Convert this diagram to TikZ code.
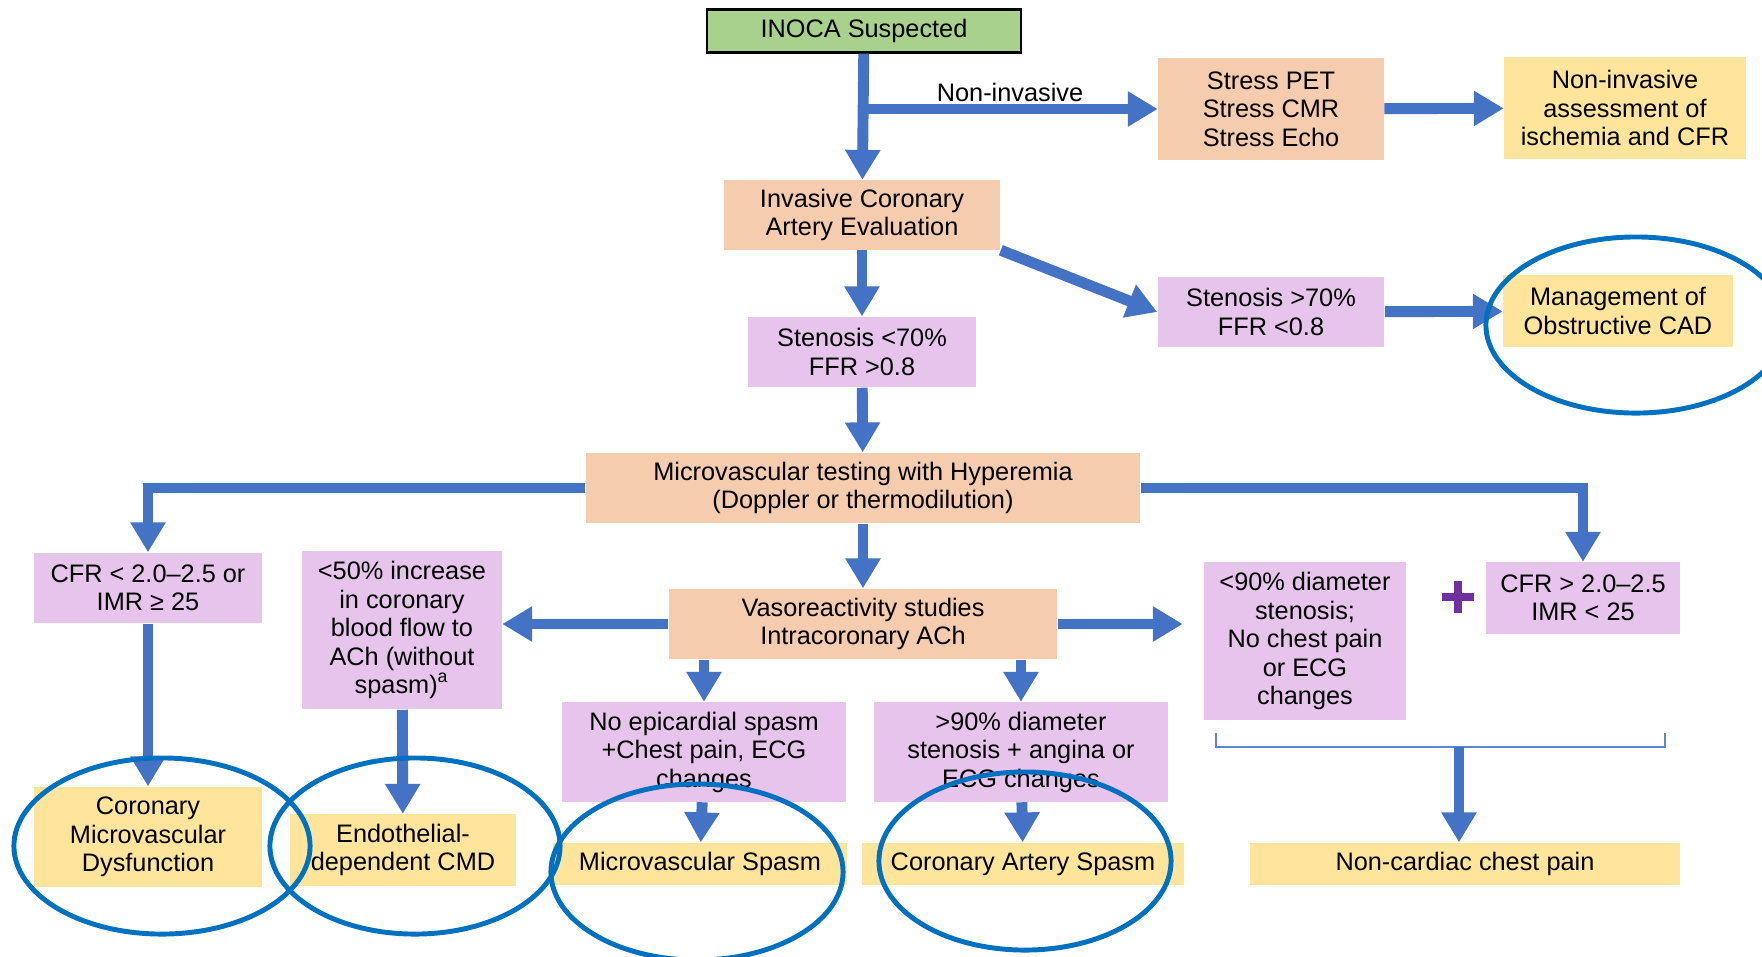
\documentclass[tikz,border=0pt]{standalone}
\usepackage{fontspec}
\setmainfont{Liberation Sans}
\usepackage{xcolor}
\usepackage{tikz}
\usetikzlibrary{arrows.meta, positioning, calc}
\definecolor{hijau}{RGB}{169, 209, 142}
\definecolor{jingga}{RGB}{246, 204, 174}
\definecolor{ungu}{RGB}{230, 196, 236}
\definecolor{kuning}{RGB}{255, 229, 156}
\definecolor{biru}{RGB}{68, 114, 196}
\definecolor{birutua}{RGB}{0, 112, 192}
\definecolor{tambah}{RGB}{112, 48, 160}

\begin{document}
\begin{tikzpicture}[
    x=0.01cm, y=-0.01cm,
    font=\fontsize{7.2}{8.1}\selectfont,
    kotak/.style={align=center, inner sep=1pt},
    panah/.style={biru, line width=3.1pt,
                  -{Triangle[length=8.5pt, width=9.5pt]}},
    lingkar/.style={birutua, line width=1.4pt},
    kurung/.style={biru!85, line width=0.6pt}
  ]
    \useasboundingbox (0,0) rectangle (1762,956);
    % Baris atas: kecurigaan dan jalur non-invasif
    \node[kotak, fill=hijau, draw=black, line width=0.6pt,
          minimum width=3.13cm, minimum height=0.43cm] (inoca) at (864,31)
      {INOCA Suspected};
    \node[kotak, fill=jingga, minimum width=2.25cm, minimum height=1.01cm]
      (stress) at (1271,109) {Stress PET\\Stress CMR\\Stress Echo};
    \node[kotak, fill=kuning, minimum width=2.41cm, minimum height=1.01cm]
      (nonassess) at (1625,108) {Non-invasive\\assessment of\\ischemia and CFR};
    \node[kotak, fill=jingga, minimum width=2.76cm, minimum height=0.69cm]
      (invasive) at (862,215) {Invasive Coronary\\Artery Evaluation};
    \node[kotak, fill=ungu, minimum width=2.27cm, minimum height=0.70cm]
      (stenlow) at (862,352) {Stenosis <70\%\\FFR >0.8};
    \node[kotak, fill=ungu, minimum width=2.26cm, minimum height=0.70cm]
      (stenhigh) at (1271,312) {Stenosis >70\%\\FFR <0.8};
    \node[kotak, fill=kuning, minimum width=2.29cm, minimum height=0.72cm]
      (manage) at (1618,311) {Management of\\Obstructive CAD};
    \node[kotak, fill=jingga, minimum width=5.54cm, minimum height=0.70cm]
      (micro) at (863,488)
      {Microvascular testing with Hyperemia\\(Doppler or thermodilution)};
    % Baris tengah
    \node[kotak, fill=ungu, minimum width=2.27cm, minimum height=0.70cm]
      (cfrlow) at (148,588) {CFR < 2.0–2.5 or\\IMR ≥ 25};
    \node[kotak, fill=ungu, minimum width=1.99cm, minimum height=1.58cm]
      (achlow) at (402,630)
      {<50\% increase\\in coronary\\blood flow to\\ACh (without\\spasm)\textsuperscript{a}};
    \node[kotak, fill=jingga, minimum width=3.88cm, minimum height=0.70cm]
      (vaso) at (863,624) {Vasoreactivity studies\\Intracoronary ACh};
    \node[kotak, fill=ungu, minimum width=2.83cm, minimum height=0.99cm]
      (noepi) at (704,752) {No epicardial spasm\\+Chest pain, ECG\\changes};
    \node[kotak, fill=ungu, minimum width=2.94cm, minimum height=0.99cm]
      (sten90) at (1021,752) {>90\% diameter\\stenosis + angina or\\ECG changes};
    \node[kotak, fill=ungu, minimum width=2.01cm, minimum height=1.57cm]
      (sten90less) at (1305,641)
      {<90\% diameter\\stenosis;\\No chest pain\\or ECG\\changes};
    \node[kotak, fill=ungu, minimum width=1.94cm, minimum height=0.71cm]
      (cfrhigh) at (1583,598) {CFR > 2.0–2.5\\IMR < 25};
    % Baris bawah: diagnosis
    \node[kotak, fill=kuning, minimum width=2.27cm, minimum height=1.00cm]
      (cmd) at (148,837) {Coronary\\Microvascular\\Dysfunction};
    \node[kotak, fill=kuning, minimum width=2.25cm, minimum height=0.71cm]
      (endo) at (403,850) {Endothelial-\\dependent CMD};
    \node[kotak, fill=kuning, minimum width=2.93cm, minimum height=0.42cm]
      (mvspasm) at (700,864) {Microvascular Spasm};
    \node[kotak, fill=kuning, minimum width=3.21cm, minimum height=0.42cm]
      (cas) at (1023,864) {Coronary Artery Spasm};
    \node[kotak, fill=kuning, minimum width=4.29cm, minimum height=0.42cm]
      (noncard) at (1465,864) {Non-cardiac chest pain};
    \node (lblnon) at (1010,92) {Non-invasive};

    % Panah
    \coordinate (cabang) at (inoca.south |- stress.west);
    \draw[panah] (inoca) -- (invasive);
    \draw[panah] (cabang) -- (stress.west);
    \draw[panah] (stress) -- (nonassess);
    \draw[panah] (invasive.south east) -- (stenhigh.west);
    \draw[panah] (stenhigh) -- (manage);
    \draw[panah] (invasive) -- (stenlow);
    \draw[panah] (stenlow) -- (micro);
    \draw[panah] (micro.west) -- (cfrlow.north |- micro.west) -- (cfrlow.north);
    \draw[panah] (micro.east) -- (cfrhigh.north |- micro.east) -- (cfrhigh.north);
    \draw[panah] (micro) -- (vaso);
    \draw[panah] (vaso.west) -- (achlow.east |- vaso.west);
    \draw[panah, shorten >=0.21cm] (vaso.east) -- (sten90less.west |- vaso.east);
    \draw[panah] (noepi.north |- vaso.south) -- (noepi.north);
    \draw[panah] (sten90.north |- vaso.south) -- (sten90.north);
    \draw[panah] (cfrlow) -- (cmd);
    \draw[panah] (achlow) -- (endo);
    \draw[panah] (noepi) -- (mvspasm);
    \draw[panah] (sten90) -- (cas);

    % Kurung dan tanda tambah
    \coordinate (kurungkiri) at (1216,733);
    \coordinate (kurungkanan) at (1665,733);
    \coordinate (kurungtengah) at (1459,747);
    \draw[kurung] (kurungkiri) -- (kurungkiri |- kurungtengah)
      -- (kurungkanan |- kurungtengah) -- (kurungkanan);
    \draw[panah] (kurungtengah) -- (kurungtengah |- noncard.north);
    \draw[tambah, line width=2.2pt] (1442,597) -- (1474,597) (1458,581) -- (1458,613);

    % Lingkaran sorotan
    \draw[lingkar] (1636,325) ellipse [x radius=1.50cm, y radius=0.88cm];
    \draw[lingkar] (162,846) ellipse [x radius=1.48cm, y radius=0.88cm];
    \draw[lingkar] (415,846) ellipse [x radius=1.45cm, y radius=0.88cm];
    \draw[lingkar] (697,872) ellipse [x radius=1.46cm, y radius=0.88cm];
    \draw[lingkar] (1025,861) ellipse [x radius=1.46cm, y radius=0.89cm];
  \end{tikzpicture}
\end{document}
